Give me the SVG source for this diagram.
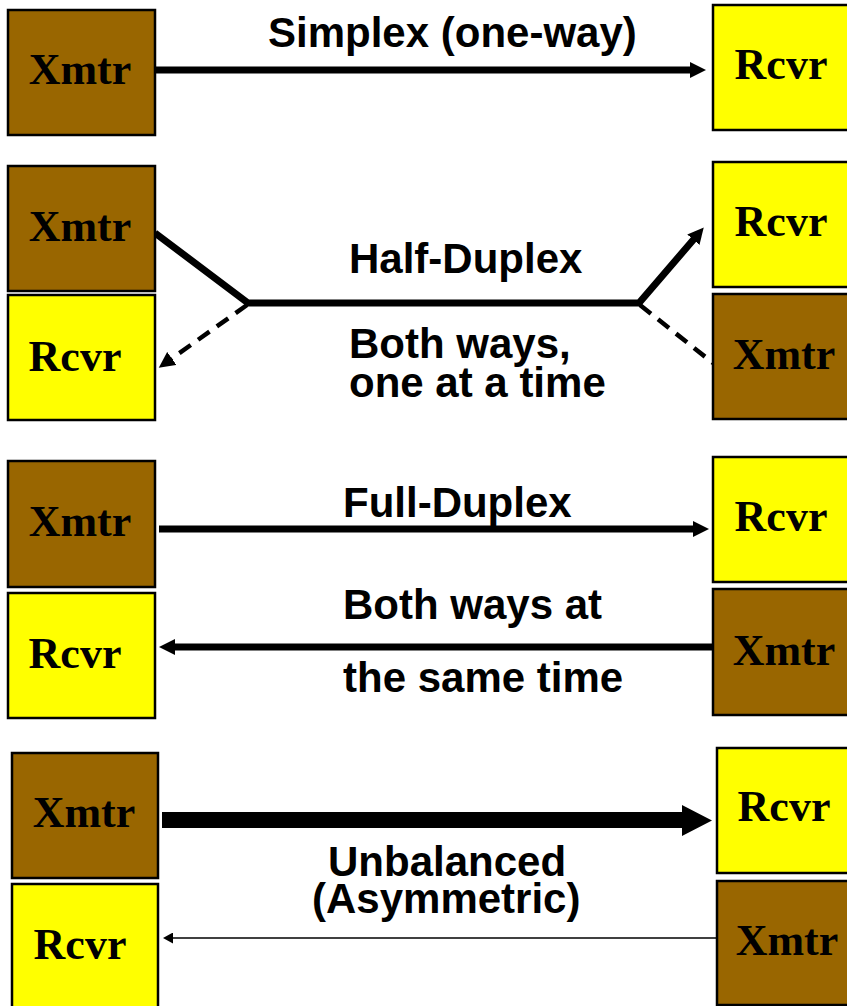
<svg xmlns="http://www.w3.org/2000/svg" width="847" height="1006" viewBox="0 0 847 1006">
  <style>
    .xmtr { fill: #996600; stroke: #000; stroke-width: 2.5; }
    .rcvr { fill: #ffff00; stroke: #000; stroke-width: 2.5; }
    .box-label { font-family: "Liberation Serif", "Times New Roman", serif; font-weight: bold; font-size: 44px; fill: #000; text-anchor: middle; }
    .caption { font-family: "Liberation Sans", Arial, sans-serif; font-weight: bold; font-size: 42px; fill: #000; }
    .wire { fill: none; stroke: #000; }
    .idle { stroke-width: 4.5; stroke-dasharray: 14 9; }
  </style>
  <defs>
    <marker id="head" markerUnits="userSpaceOnUse" markerWidth="17" markerHeight="16" refX="1" refY="8" orient="auto">
      <path d="M0,0 L16,8 L0,16 Z" fill="#000"/>
    </marker>
    <marker id="head-small" markerUnits="userSpaceOnUse" markerWidth="11" markerHeight="11" refX="1" refY="5.5" orient="auto">
      <path d="M0,0 L10,5.5 L0,11 Z" fill="#000"/>
    </marker>
  </defs>

  <!-- connectors -->
  <g id="connectors">
    <!-- simplex -->
    <line class="wire" x1="155" y1="70" x2="691" y2="70" stroke-width="7" marker-end="url(#head)"/>
    <!-- half-duplex: active path and idle (dashed) branches -->
    <polyline class="wire" points="155,233 248,303 639,303 694,239" stroke-width="7" stroke-linejoin="miter" marker-end="url(#head)"/>
    <line class="wire idle" x1="247" y1="305" x2="171" y2="359" marker-end="url(#head)"/>
    <line class="wire idle" x1="640" y1="305" x2="713" y2="363"/>
    <!-- full-duplex -->
    <line class="wire" x1="159" y1="529" x2="694" y2="529" stroke-width="7" marker-end="url(#head)"/>
    <line class="wire" x1="713" y1="647" x2="174" y2="647" stroke-width="7" marker-end="url(#head)"/>
    <!-- unbalanced: wide forward channel, narrow return channel -->
    <path d="M162,812 L682,812 L682,805 L712,820.5 L682,836 L682,828 L162,828 Z" fill="#000"/>
    <line class="wire" x1="717" y1="938" x2="172" y2="938" stroke-width="1.5" marker-end="url(#head-small)"/>
  </g>

  <!-- captions -->
  <g id="captions">
    <text class="caption" x="268" y="47">Simplex (one-way)</text>
    <text class="caption" x="349" y="273">Half-Duplex</text>
    <text class="caption" x="349" y="358">Both ways,</text>
    <text class="caption" x="349" y="397">one at a time</text>
    <text class="caption" x="343" y="517">Full-Duplex</text>
    <text class="caption" x="343" y="619">Both ways at</text>
    <text class="caption" x="343" y="692">the same time</text>
    <text class="caption" x="328" y="876">Unbalanced</text>
    <text class="caption" x="312" y="913">(Asymmetric)</text>
  </g>

  <!-- simplex -->
  <g id="simplex-xmtr">
    <rect class="xmtr" x="8" y="10" width="147" height="125"/>
    <text class="box-label" x="80" y="84">Xmtr</text>
  </g>
  <g id="simplex-rcvr">
    <rect class="rcvr" x="713" y="5" width="150" height="125"/>
    <text class="box-label" x="781" y="79">Rcvr</text>
  </g>

  <!-- half-duplex -->
  <g id="half-left-xmtr">
    <rect class="xmtr" x="8" y="166" width="147" height="125"/>
    <text class="box-label" x="80" y="241">Xmtr</text>
  </g>
  <g id="half-left-rcvr">
    <rect class="rcvr" x="8" y="295" width="147" height="125"/>
    <text class="box-label" x="75" y="371">Rcvr</text>
  </g>
  <g id="half-right-rcvr">
    <rect class="rcvr" x="713" y="162" width="150" height="125"/>
    <text class="box-label" x="781" y="236">Rcvr</text>
  </g>
  <g id="half-right-xmtr">
    <rect class="xmtr" x="713" y="294" width="150" height="125"/>
    <text class="box-label" x="784" y="369">Xmtr</text>
  </g>

  <!-- full-duplex -->
  <g id="full-left-xmtr">
    <rect class="xmtr" x="8" y="461" width="147" height="126"/>
    <text class="box-label" x="80" y="536">Xmtr</text>
  </g>
  <g id="full-left-rcvr">
    <rect class="rcvr" x="8" y="593" width="147" height="125"/>
    <text class="box-label" x="75" y="668">Rcvr</text>
  </g>
  <g id="full-right-rcvr">
    <rect class="rcvr" x="713" y="457" width="150" height="125"/>
    <text class="box-label" x="781" y="531">Rcvr</text>
  </g>
  <g id="full-right-xmtr">
    <rect class="xmtr" x="713" y="589" width="150" height="126"/>
    <text class="box-label" x="784" y="665">Xmtr</text>
  </g>

  <!-- unbalanced -->
  <g id="unbal-left-xmtr">
    <rect class="xmtr" x="12" y="753" width="146" height="125"/>
    <text class="box-label" x="84" y="827">Xmtr</text>
  </g>
  <g id="unbal-left-rcvr">
    <rect class="rcvr" x="12" y="884" width="146" height="130"/>
    <text class="box-label" x="80" y="959">Rcvr</text>
  </g>
  <g id="unbal-right-rcvr">
    <rect class="rcvr" x="717" y="748" width="146" height="125"/>
    <text class="box-label" x="784" y="821">Rcvr</text>
  </g>
  <g id="unbal-right-xmtr">
    <rect class="xmtr" x="717" y="881" width="146" height="124"/>
    <text class="box-label" x="787" y="955">Xmtr</text>
  </g>
</svg>
